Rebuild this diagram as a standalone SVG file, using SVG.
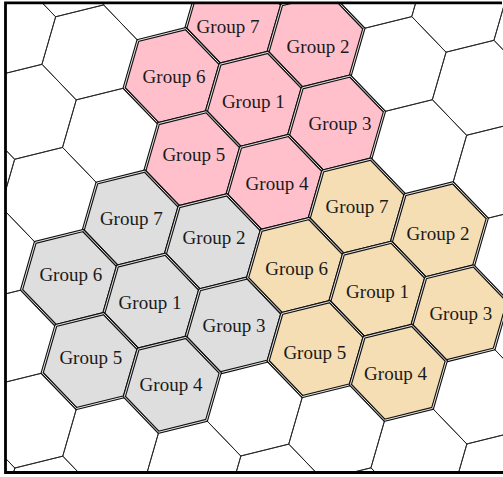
<svg xmlns="http://www.w3.org/2000/svg" xmlns:xlink="http://www.w3.org/1999/xlink" width="503" height="477" viewBox="0 0 503 477">
<style>
.g{fill:none;stroke:#222;stroke-width:0.9}
.pk{fill:#FFC0CB;stroke:#111;stroke-width:3.2}
.gy{fill:#DEDEDE;stroke:#111;stroke-width:3.2}
.tn{fill:#F5DEB3;stroke:#111;stroke-width:3.2}
.in{fill:none;stroke:#fff;stroke-width:0.9}
text{font-family:"Liberation Serif","Times New Roman",serif;font-size:19px;fill:#1a1a1a;text-anchor:middle}
</style>
<defs>
<polygon id="h" points="47.95,-11.87 34.24,35.61 -13.7,47.46 -47.95,11.87 -34.24,-35.61 13.7,-47.46"/>
<clipPath id="c"><rect x="5.5" y="2.8" width="500" height="469.7"/></clipPath>
</defs>
<rect width="503" height="477" fill="#fff"/>
<g clip-path="url(#c)">
<g id="grid" class="g">
<use xlink:href="#h" x="295.3" y="-42.7"/>
<use xlink:href="#h" x="377.5" y="-19.0"/>
<use xlink:href="#h" x="459.7" y="4.7"/>
<use xlink:href="#h" x="541.9" y="28.4"/>
<use xlink:href="#h" x="69.3" y="-30.7"/>
<use xlink:href="#h" x="151.5" y="-7.0"/>
<use xlink:href="#h" x="398.1" y="64.1"/>
<use xlink:href="#h" x="480.3" y="87.8"/>
<use xlink:href="#h" x="7.7" y="28.7"/>
<use xlink:href="#h" x="89.9" y="52.4"/>
<use xlink:href="#h" x="418.7" y="147.2"/>
<use xlink:href="#h" x="500.9" y="170.9"/>
<use xlink:href="#h" x="28.3" y="111.8"/>
<use xlink:href="#h" x="110.5" y="135.5"/>
<use xlink:href="#h" x="521.5" y="254.0"/>
<use xlink:href="#h" x="-33.3" y="171.2"/>
<use xlink:href="#h" x="48.9" y="194.9"/>
<use xlink:href="#h" x="542.1" y="337.1"/>
<use xlink:href="#h" x="-12.7" y="254.3"/>
<use xlink:href="#h" x="480.5" y="396.5"/>
<use xlink:href="#h" x="7.9" y="337.4"/>
<use xlink:href="#h" x="254.5" y="408.5"/>
<use xlink:href="#h" x="336.7" y="432.2"/>
<use xlink:href="#h" x="418.9" y="455.9"/>
<use xlink:href="#h" x="501.1" y="479.6"/>
<use xlink:href="#h" x="28.5" y="420.6"/>
<use xlink:href="#h" x="110.7" y="444.3"/>
<use xlink:href="#h" x="192.9" y="468.0"/>
<use xlink:href="#h" x="275.1" y="491.6"/>
<use xlink:href="#h" x="357.3" y="515.3"/>
<use xlink:href="#h" x="-33.1" y="479.9"/>
<use xlink:href="#h" x="49.1" y="503.6"/>
</g>
<g id="pink-g7"><use class="pk" xlink:href="#h" x="233.7" y="16.7"/><use class="in" xlink:href="#h" x="233.7" y="16.7"/><text x="228" y="33.3">Group 7</text></g>
<g id="pink-g2"><use class="pk" xlink:href="#h" x="315.9" y="40.4"/><use class="in" xlink:href="#h" x="315.9" y="40.4"/><text x="318" y="53.3">Group 2</text></g>
<g id="pink-g6"><use class="pk" xlink:href="#h" x="172.1" y="76.1"/><use class="in" xlink:href="#h" x="172.1" y="76.1"/><text x="174" y="82.7">Group 6</text></g>
<g id="pink-g1"><use class="pk" xlink:href="#h" x="254.3" y="99.8"/><use class="in" xlink:href="#h" x="254.3" y="99.8"/><text x="253.3" y="108.3">Group 1</text></g>
<g id="pink-g3"><use class="pk" xlink:href="#h" x="336.5" y="123.5"/><use class="in" xlink:href="#h" x="336.5" y="123.5"/><text x="340" y="130">Group 3</text></g>
<g id="pink-g5"><use class="pk" xlink:href="#h" x="192.7" y="159.2"/><use class="in" xlink:href="#h" x="192.7" y="159.2"/><text x="193.8" y="160.7">Group 5</text></g>
<g id="pink-g4"><use class="pk" xlink:href="#h" x="274.9" y="182.9"/><use class="in" xlink:href="#h" x="274.9" y="182.9"/><text x="277" y="190">Group 4</text></g>
<g id="grey-g7"><use class="gy" xlink:href="#h" x="131.1" y="218.6"/><use class="in" xlink:href="#h" x="131.1" y="218.6"/><text x="131.3" y="225">Group 7</text></g>
<g id="grey-g2"><use class="gy" xlink:href="#h" x="213.3" y="242.3"/><use class="in" xlink:href="#h" x="213.3" y="242.3"/><text x="214" y="244">Group 2</text></g>
<g id="grey-g6"><use class="gy" xlink:href="#h" x="69.5" y="278.0"/><use class="in" xlink:href="#h" x="69.5" y="278.0"/><text x="70.8" y="281">Group 6</text></g>
<g id="grey-g1"><use class="gy" xlink:href="#h" x="151.7" y="301.7"/><use class="in" xlink:href="#h" x="151.7" y="301.7"/><text x="150" y="308.7">Group 1</text></g>
<g id="grey-g3"><use class="gy" xlink:href="#h" x="233.9" y="325.4"/><use class="in" xlink:href="#h" x="233.9" y="325.4"/><text x="234" y="332">Group 3</text></g>
<g id="grey-g5"><use class="gy" xlink:href="#h" x="90.1" y="361.1"/><use class="in" xlink:href="#h" x="90.1" y="361.1"/><text x="90.8" y="363.7">Group 5</text></g>
<g id="grey-g4"><use class="gy" xlink:href="#h" x="172.3" y="384.8"/><use class="in" xlink:href="#h" x="172.3" y="384.8"/><text x="171" y="391">Group 4</text></g>
<g id="tan-g7"><use class="tn" xlink:href="#h" x="357.1" y="206.6"/><use class="in" xlink:href="#h" x="357.1" y="206.6"/><text x="357" y="213.3">Group 7</text></g>
<g id="tan-g2"><use class="tn" xlink:href="#h" x="439.3" y="230.3"/><use class="in" xlink:href="#h" x="439.3" y="230.3"/><text x="438" y="240">Group 2</text></g>
<g id="tan-g6"><use class="tn" xlink:href="#h" x="295.5" y="266.0"/><use class="in" xlink:href="#h" x="295.5" y="266.0"/><text x="296.7" y="275.3">Group 6</text></g>
<g id="tan-g1"><use class="tn" xlink:href="#h" x="377.7" y="289.7"/><use class="in" xlink:href="#h" x="377.7" y="289.7"/><text x="377.5" y="297.7">Group 1</text></g>
<g id="tan-g3"><use class="tn" xlink:href="#h" x="459.9" y="313.4"/><use class="in" xlink:href="#h" x="459.9" y="313.4"/><text x="460.8" y="319.7">Group 3</text></g>
<g id="tan-g5"><use class="tn" xlink:href="#h" x="316.1" y="349.1"/><use class="in" xlink:href="#h" x="316.1" y="349.1"/><text x="314.8" y="358.7">Group 5</text></g>
<g id="tan-g4"><use class="tn" xlink:href="#h" x="398.3" y="372.8"/><use class="in" xlink:href="#h" x="398.3" y="372.8"/><text x="395.5" y="380.3">Group 4</text></g>
</g>
<path id="frame" d="M502,2.8H5.5V472.5H503" fill="none" stroke="#000" stroke-width="2.8"/>
</svg>
